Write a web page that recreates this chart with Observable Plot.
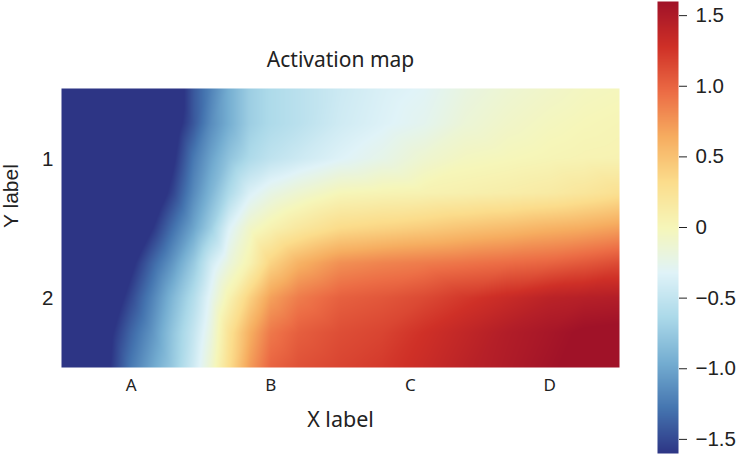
<!DOCTYPE html>
<html><head><meta charset="utf-8">
<script src="https://cdn.jsdelivr.net/npm/d3@7"></script>
<script src="https://cdn.jsdelivr.net/npm/@observablehq/plot@0.6"></script>
<style>
html,body{margin:0;padding:0;background:#fff}
#wrap{position:relative;width:738px;height:455px;overflow:hidden}
#wrap svg{position:absolute;display:block;background:transparent}
</style></head><body><div id="wrap"></div>
<script>
const xLabels = ["A","B","C","D"];
const yLabels = ["1","2"];
const xPositions = [0,0.35,0.5,0.65,0.8,0.95,1.07,1.2,1.35,1.5,1.7,2,2.3,2.6,2.9,3.2,3.5,3.75,4];
const yPositions = [0,0.25,0.5,0.75,1,1.25,1.5,1.75,2];
const row0 = [-3.4,-2.7,-2.4,-2.1,-1.8,-1.42,-1.2,-0.95,-0.72,-0.62,-0.55,-0.44,-0.36,-0.31,-0.2,-0.13,-0.08,-0.04,-0.02];
const row1 = [-3.3,-2.62,-2.33,-2.03,-1.74,-1.42,-1.15,-0.95,-0.72,-0.62,-0.55,-0.42,-0.34,-0.27,-0.15,-0.08,-0.03,0,0.02];
const row2 = [-3.2,-2.52,-2.23,-1.94,-1.64,-1.25,-1.02,-0.8,-0.62,-0.52,-0.44,-0.33,-0.24,-0.12,-0.04,-0.01,0.02,0.04,0.05];
const row3 = [-3.1,-2.4,-2.1,-1.81,-1.52,-1.15,-0.9,-0.62,-0.35,-0.22,-0.12,0,0.03,0.05,0.08,0.11,0.15,0.21,0.28];
const row4 = [-2.9,-2.2,-1.9,-1.61,-1.3,-1,-0.72,-0.34,-0.08,0.05,0.18,0.33,0.38,0.43,0.49,0.54,0.6,0.64,0.7];
const row5 = [-2.65,-1.95,-1.66,-1.36,-1.08,-0.75,-0.42,-0.18,0.05,0.38,0.6,0.78,0.84,0.88,0.92,0.96,1,1.06,1.13];
const row6 = [-2.5,-1.78,-1.5,-1.2,-0.88,-0.58,-0.28,0.05,0.4,0.7,0.88,1.02,1.07,1.14,1.24,1.33,1.42,1.45,1.47];
const row7 = [-2.3,-1.64,-1.35,-1.1,-0.78,-0.48,-0.2,0.25,0.62,0.9,1.03,1.12,1.17,1.28,1.38,1.48,1.55,1.62,1.64];
const row8 = [-2.3,-1.6,-1.25,-1,-0.75,-0.42,-0.12,0.3,0.72,1,1.1,1.17,1.23,1.32,1.42,1.5,1.58,1.65,1.66];
const rows = [row0,row1,row2,row3,row4,row5,row6,row7,row8];
const colorDomain = [-1.6,-1.28,-0.96,-0.64,-0.32,0,0.32,0.64,0.96,1.28,1.6];
const colorRange = ["#2d3585","#4575b0","#74add1","#abd9e9","#e0f3f8","#f6f6b9","#fbdd8c","#f6ad60","#ec6c45","#cf3027","#a01228"];
const colorTicks = [-1.5,-1,-0.5,0,0.5,1,1.5];
const colorTickLabels = ["\u22121.5","\u22121.0","\u22120.5","0","0.5","1.0","1.5"];
const cells = rows.flatMap((r,j)=>r.map((v,i)=>({x:xPositions[i],y:yPositions[j],v})));
const color = {type:"linear",domain:colorDomain,range:colorRange,interpolate:"rgb",clamp:true};
const ink = "#222";
const main = Plot.plot({
  width:738,height:455,marginLeft:61,marginRight:119,marginTop:88,marginBottom:88,
  style:{background:"transparent"},
  x:{domain:[0,4],axis:null},y:{domain:[2,0],axis:null},color,
  marks:[
    Plot.raster(cells,{x:"x",y:"y",fill:"v",x1:0,x2:4,y1:2,y2:0,pixelSize:1,interpolate:"barycentric"}),
    Plot.axisX({anchor:"bottom",ticks:[0.5,1.5,2.5,3.5],tickSize:0,tickPadding:11,tickFormat:d=>xLabels[Math.floor(d)],fontSize:17,fontFamily:"Noto Sans",color:ink,label:null}),
    Plot.axisY({anchor:"left",ticks:[0.5,1.5],tickSize:0,tickPadding:8,dy:1,tickFormat:d=>yLabels[Math.floor(d)],fontSize:20.5,fontFamily:"Liberation Sans",color:ink,label:null}),
    Plot.text(["Activation map"],{frameAnchor:"top",dy:-36,fontSize:21,fontFamily:"Noto Sans",fill:ink}),
    Plot.text(["X label"],{frameAnchor:"bottom",dy:59,fontSize:21.5,fontFamily:"Noto Sans",fill:ink}),
    Plot.text(["Y label"],{frameAnchor:"left",dx:-50,rotate:-90,fontSize:21,fontFamily:"Liberation Sans",fill:ink})
  ]
});
main.style.left="0";main.style.top="0";
const bar = Plot.plot({
  width:81,height:455,marginLeft:0,marginRight:60,marginTop:1,marginBottom:2,
  style:{background:"transparent"},
  x:{domain:[0,1],axis:null},y:{domain:[-1.6,1.6],axis:null},color,
  marks:[
    Plot.raster({x1:0,x2:1,y1:-1.6,y2:1.6,pixelSize:1,fill:(x,y)=>y}),
    Plot.axisY({anchor:"right",ticks:colorTicks,tickSize:8,tickPadding:9,textAnchor:"start",tickFormat:d=>colorTickLabels[colorTicks.indexOf(d)],fontSize:20.5,fontFamily:"Liberation Sans",color:ink,label:null})
  ]
});
bar.style.left="657px";bar.style.top="0";bar.style.overflow="visible";
document.getElementById("wrap").append(main,bar);
</script></body></html>
